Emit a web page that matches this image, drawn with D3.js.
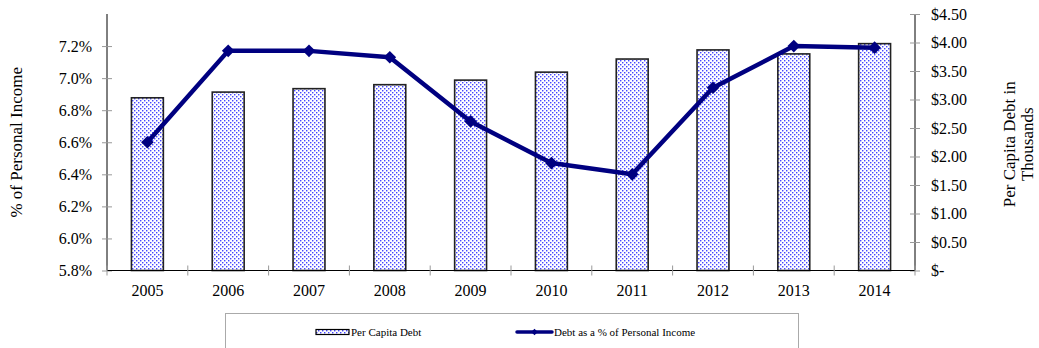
<!DOCTYPE html>
<html>
<head>
<meta charset="utf-8">
<script src="https://cdn.jsdelivr.net/npm/d3@7"></script>
<style>
  html, body { margin: 0; padding: 0; background: #fff; }
  svg { display: block; }
  svg text { font-family: "Liberation Serif", "DejaVu Serif", serif !important; fill: #000; }
</style>
</head>
<body>
<svg id="chart" width="1039" height="348"></svg>
<script>
// ---- Data ----
const years = ["2005","2006","2007","2008","2009","2010","2011","2012","2013","2014"];
const perCapitaDebt = [3.03, 3.13, 3.19, 3.26, 3.34, 3.48, 3.71, 3.87, 3.80, 3.98]; // $ thousands
const debtPctIncome = [6.60, 7.17, 7.17, 7.13, 6.73, 6.47, 6.40, 6.94, 7.20, 7.19]; // %
const leftTicks = [5.8, 6.0, 6.2, 6.4, 6.6, 6.8, 7.0, 7.2];
const rightTicks = [0, 0.5, 1.0, 1.5, 2.0, 2.5, 3.0, 3.5, 4.0, 4.5];
const leftTitle = "% of Personal Income";
const rightTitle = ["Per Capita Debt in", "Thousands"];
const legendLabels = ["Per Capita Debt", "Debt as a % of Personal Income"];

// ---- Layout ----
const svg = d3.select("#chart");
const L = 107, R = 915, T = 14, B = 270.5;
const navy = "#000080";
const FONT = "Liberation Serif";

const x = d3.scaleBand().domain(years).range([L, R]).padding(0);
const yL = d3.scaleLinear().domain([5.8, 7.4]).range([B, T]);
const yR = d3.scaleLinear().domain([0, 4.5]).range([B, T]);

// pattern: staggered blue dots on white
const defs = svg.append("defs");
const pat = defs.append("pattern").attr("id", "dots").attr("patternUnits", "userSpaceOnUse")
  .attr("width", 4).attr("height", 4);
pat.append("rect").attr("width", 4).attr("height", 4).attr("fill", "#fff");
[[0, 0], [2, 2]].forEach(([ox, oy]) => {
  pat.append("rect").attr("x", ox).attr("y", oy).attr("width", 1).attr("height", 1).attr("fill", "#4646ff");
  pat.append("rect").attr("x", ox + 1).attr("y", oy).attr("width", 1).attr("height", 1).attr("fill", "#b0b0ff");
  pat.append("rect").attr("x", ox).attr("y", oy + 1).attr("width", 1).attr("height", 1).attr("fill", "#b0b0ff");
  pat.append("rect").attr("x", ox + 1).attr("y", oy + 1).attr("width", 1).attr("height", 1).attr("fill", "#e0e0ff");
});

// bars
const bw = x.bandwidth() * 0.395;
svg.append("g").selectAll("rect").data(years).join("rect")
  .attr("x", d => x(d) + x.bandwidth() / 2 - bw / 2)
  .attr("y", (d, i) => yR(perCapitaDebt[i]))
  .attr("width", bw)
  .attr("height", (d, i) => B - yR(perCapitaDebt[i]))
  .attr("fill", "url(#dots)")
  .attr("stroke", "#222").attr("stroke-width", 1.6);

// left axis
const gL = svg.append("g").attr("transform", `translate(${L},0)`)
  .call(d3.axisLeft(yL).tickValues(leftTicks).tickFormat(d => d.toFixed(1) + "%").tickSizeInner(5).tickSizeOuter(0).tickPadding(10));
gL.attr("font-family", FONT);
gL.select(".domain").attr("stroke", "#000").attr("d", `M0,${T}V${B}`);
gL.selectAll(".tick line").attr("stroke", "#999").attr("x1", 5).attr("x2", -5);
gL.selectAll(".tick text").attr("font-size", 16);

// right axis
const gR = svg.append("g").attr("transform", `translate(${R},0)`)
  .call(d3.axisRight(yR).tickValues(rightTicks).tickFormat(d => d === 0 ? "$-" : "$" + d.toFixed(2)).tickSizeInner(5).tickSizeOuter(0).tickPadding(11));
gR.attr("font-family", FONT);
gR.select(".domain").attr("stroke", "#000").attr("d", `M0,${T}V${B}`);
gR.selectAll(".tick line").attr("stroke", "#999").attr("x1", -5).attr("x2", 5);
gR.selectAll(".tick text").attr("font-size", 16);

// x axis
const gX = svg.append("g").attr("transform", `translate(0,${B})`)
  .call(d3.axisBottom(x).tickSize(0).tickPadding(14));
gX.attr("font-family", FONT);
gX.select(".domain").attr("stroke", "#000").attr("d", `M${L},0H${R}`);
gX.selectAll(".tick text").attr("font-size", 16);
const bounds = years.map(d => x(d)).concat([R]);
gX.append("g").selectAll("line").data(bounds).join("line")
  .attr("x1", d => d).attr("x2", d => d).attr("y1", -5).attr("y2", 5)
  .attr("stroke", "#999");

// line
const line = d3.line().x((d, i) => x(years[i]) + x.bandwidth() / 2).y(d => yL(d));
svg.append("path").datum(debtPctIncome).attr("d", line)
  .attr("fill", "none").attr("stroke", navy).attr("stroke-width", 4.5).attr("stroke-linejoin", "round");
const diamond = d3.symbol().type(d3.symbolSquare).size(80);
svg.append("g").selectAll("path").data(debtPctIncome).join("path")
  .attr("d", diamond)
  .attr("transform", (d, i) => `translate(${x(years[i]) + x.bandwidth() / 2},${yL(d)}) rotate(45)`)
  .attr("fill", navy);

// axis titles
svg.append("text").attr("transform", `translate(22,${(T + B) / 2}) rotate(-90)`)
  .attr("text-anchor", "middle").attr("font-size", 17).text(leftTitle);
svg.append("text").attr("transform", `translate(1015,${(T + B) / 2 + 2}) rotate(-90)`)
  .attr("text-anchor", "middle").attr("font-size", 17).text(rightTitle[0]);
svg.append("text").attr("transform", `translate(1033,${(T + B) / 2 + 2}) rotate(-90)`)
  .attr("text-anchor", "middle").attr("font-size", 17).text(rightTitle[1]);

// legend
const lg = svg.append("g");
lg.append("rect").attr("x", 225.5).attr("y", 313.5).attr("width", 573).attr("height", 40)
  .attr("fill", "#fff").attr("stroke", "#aaa");
lg.append("rect").attr("x", 316).attr("y", 329.5).attr("width", 33).attr("height", 5)
  .attr("fill", "url(#dots)").attr("stroke", "#000").attr("stroke-width", 1.2);
lg.append("text").attr("x", 351).attr("y", 336).attr("font-size", 11).text(legendLabels[0]);
lg.append("line").attr("x1", 517).attr("x2", 552).attr("y1", 332).attr("y2", 332)
  .attr("stroke", navy).attr("stroke-width", 3.5).attr("stroke-linecap", "round");
lg.append("path").attr("d", d3.symbol().type(d3.symbolSquare).size(22)())
  .attr("transform", "translate(534.5,332) rotate(45)").attr("fill", navy);
lg.append("text").attr("x", 554).attr("y", 336).attr("font-size", 11).text(legendLabels[1]);
</script>
</body>
</html>
